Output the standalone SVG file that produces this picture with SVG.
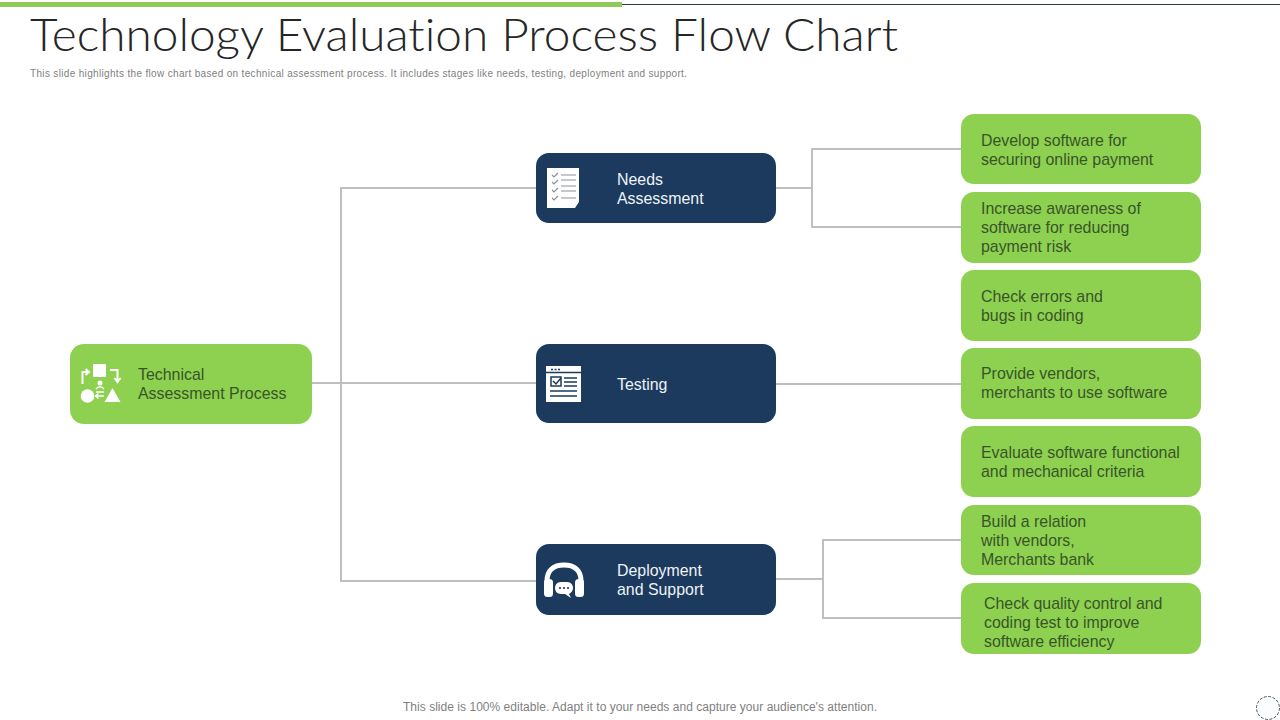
<svg xmlns="http://www.w3.org/2000/svg" width="1280" height="720" viewBox="0 0 1280 720">
<style>
text{font-family:"Liberation Sans",Arial,sans-serif}
.g{fill:#8ed04f}.b{fill:#1b3a5d}
.t{font-size:15.9px;fill:#38552a}
.w{font-size:15.9px;fill:#eef3f8}
.c{fill:none;stroke:#bfbfbf;stroke-width:2}
.i{fill:#fff}.il{stroke:#fff;stroke-width:2;fill:none}.dl{stroke:#1b3a5d;stroke-width:1.500;fill:none}
.gl{stroke:#8a939c;stroke-width:1.200;fill:none}
</style>
<rect width="1280" height="720" fill="#fff"/>
<line x1="622" y1="4.500" x2="1280" y2="4.500" stroke="#2c3e34" stroke-width="1"/>
<rect x="0" y="2" width="622" height="5" fill="#8fca5a"/>
<text x="30" y="51" font-size="46" font-weight="300" style="font-family:'Lato','Open Sans',sans-serif;font-variant-ligatures:none" fill="#262626" textLength="868" lengthAdjust="spacingAndGlyphs">Technology Evaluation Process Flow Chart</text>
<text x="30" y="77" font-size="10" fill="#7f7f7f" textLength="657" lengthAdjust="spacing">This slide highlights the flow chart based on technical assessment process. It includes stages like needs, testing, deployment and support.</text>
<g id="connectors">
<path class="c" d="M312 383H536M536 188H341V581H536"/>
<path class="c" d="M776 188H812M961 149H812V227H961"/>
<path class="c" d="M776 384H961"/>
<path class="c" d="M776 579H823M961 540H823V618H961"/>
</g>
<g id="node-root">
<rect class="g" x="70" y="344" width="242" height="80" rx="14"/>
<rect class="i" x="93" y="364" width="13" height="13" rx="1"/>
<circle class="i" cx="87.500" cy="396" r="6.800"/>
<path class="i" d="M112.500 388L120.500 402H104.500Z"/>
<path class="il" d="M82.500 384V372H89M85.500 375L89 372L85.500 369M110 370H117.500V381M114.500 378L117.500 382L120.500 378"/>
<circle class="i" cx="100" cy="383" r="2.500"/>
<path class="il" style="stroke-width:1.500" d="M96 389C98 386 102 386 104 389M96 392H104M96 396H104M98.500 398.500L95.500 396L98.500 393.500"/>
<text class="t"><tspan x="138" y="380">Technical</tspan><tspan x="138" y="399">Assessment Process</tspan></text>
</g>
<g id="node-needs">
<rect class="b" x="536" y="153" width="240" height="70" rx="13"/>
<path class="i" d="M547 168H579V202L575 208H547Z"/>
<path class="gl" d="M561 175H576M561 180H576M561 186H576M561 191H576M561 198H576"/>
<path class="gl" d="M552 175L554 177L558 173M552 182L554 184L558 180M552 190L554 192L558 188M552 198L554 200L558 196"/>
<text class="w"><tspan x="617" y="185">Needs</tspan><tspan x="617" y="204">Assessment</tspan></text>
</g>
<g id="node-testing">
<rect class="b" x="536" y="344" width="240" height="79" rx="13"/>
<rect class="i" x="546" y="366" width="35" height="36"/>
<path class="dl" d="M546 372.500H581M551 369.500H553M554.500 369.500H556.500M558 369.500H560M551 377H561V386H551ZM564 378H577M564 382H577M564 386H577M550 391H577M550 396H577"/>
<path class="dl" d="M553 381L556 384L561 378"/>
<text class="w" x="617" y="390">Testing</text>
</g>
<g id="node-deploy">
<rect class="b" x="536" y="544" width="240" height="71" rx="13"/>
<path d="M547 585V581C547 570 554 565 564 565C574 565 581 570 581 581V585" fill="none" stroke="#fff" stroke-width="5"/>
<rect class="i" x="544" y="579" width="9" height="18" rx="3.500"/>
<rect class="i" x="575" y="579" width="9" height="18" rx="3.500"/>
<path class="i" d="M561 582H567C571 582 573 585 573 588C573 591 571 593 569 594L571 598L565 594H561C557 594 555 591 555 588C555 585 557 582 561 582Z"/>
<circle class="b" cx="560" cy="588" r="1.100"/><circle class="b" cx="564" cy="588" r="1.100"/><circle class="b" cx="568" cy="588" r="1.100"/>
<text class="w"><tspan x="617" y="576">Deployment</tspan><tspan x="617" y="595">and Support</tspan></text>
</g>
<g id="leaf-1"><rect class="g" x="961" y="114" width="240" height="70" rx="13"/><text class="t"><tspan x="981" y="146">Develop software for</tspan><tspan x="981" y="165">securing online payment</tspan></text></g>
<g id="leaf-2"><rect class="g" x="961" y="192" width="240" height="71" rx="13"/><text class="t"><tspan x="981" y="214">Increase awareness of</tspan><tspan x="981" y="233">software for reducing</tspan><tspan x="981" y="252">payment risk</tspan></text></g>
<g id="leaf-3"><rect class="g" x="961" y="270" width="240" height="71" rx="13"/><text class="t"><tspan x="981" y="302">Check errors and</tspan><tspan x="981" y="321">bugs in coding</tspan></text></g>
<g id="leaf-4"><rect class="g" x="961" y="348" width="240" height="71" rx="13"/><text class="t"><tspan x="981" y="379">Provide vendors,</tspan><tspan x="981" y="398">merchants to use software</tspan></text></g>
<g id="leaf-5"><rect class="g" x="961" y="426" width="240" height="71" rx="13"/><text class="t"><tspan x="981" y="458">Evaluate software functional</tspan><tspan x="981" y="477">and mechanical criteria</tspan></text></g>
<g id="leaf-6"><rect class="g" x="961" y="505" width="240" height="70" rx="13"/><text class="t"><tspan x="981" y="527">Build a relation</tspan><tspan x="981" y="546">with vendors,</tspan><tspan x="981" y="565">Merchants bank</tspan></text></g>
<g id="leaf-7"><rect class="g" x="961" y="583" width="240" height="71" rx="13"/><text class="t"><tspan x="984" y="609">Check quality control and</tspan><tspan x="984" y="628">coding test to improve</tspan><tspan x="984" y="647">software efficiency</tspan></text></g>
<text x="403" y="711" font-size="12" fill="#7f7f7f" textLength="474" lengthAdjust="spacing">This slide is 100% editable. Adapt it to your needs and capture your audience's attention.</text>
<circle cx="1268" cy="708" r="11.500" fill="#fbfdfe" stroke="#4a5560" stroke-width="1" stroke-dasharray="3 1.500"/>
</svg>
